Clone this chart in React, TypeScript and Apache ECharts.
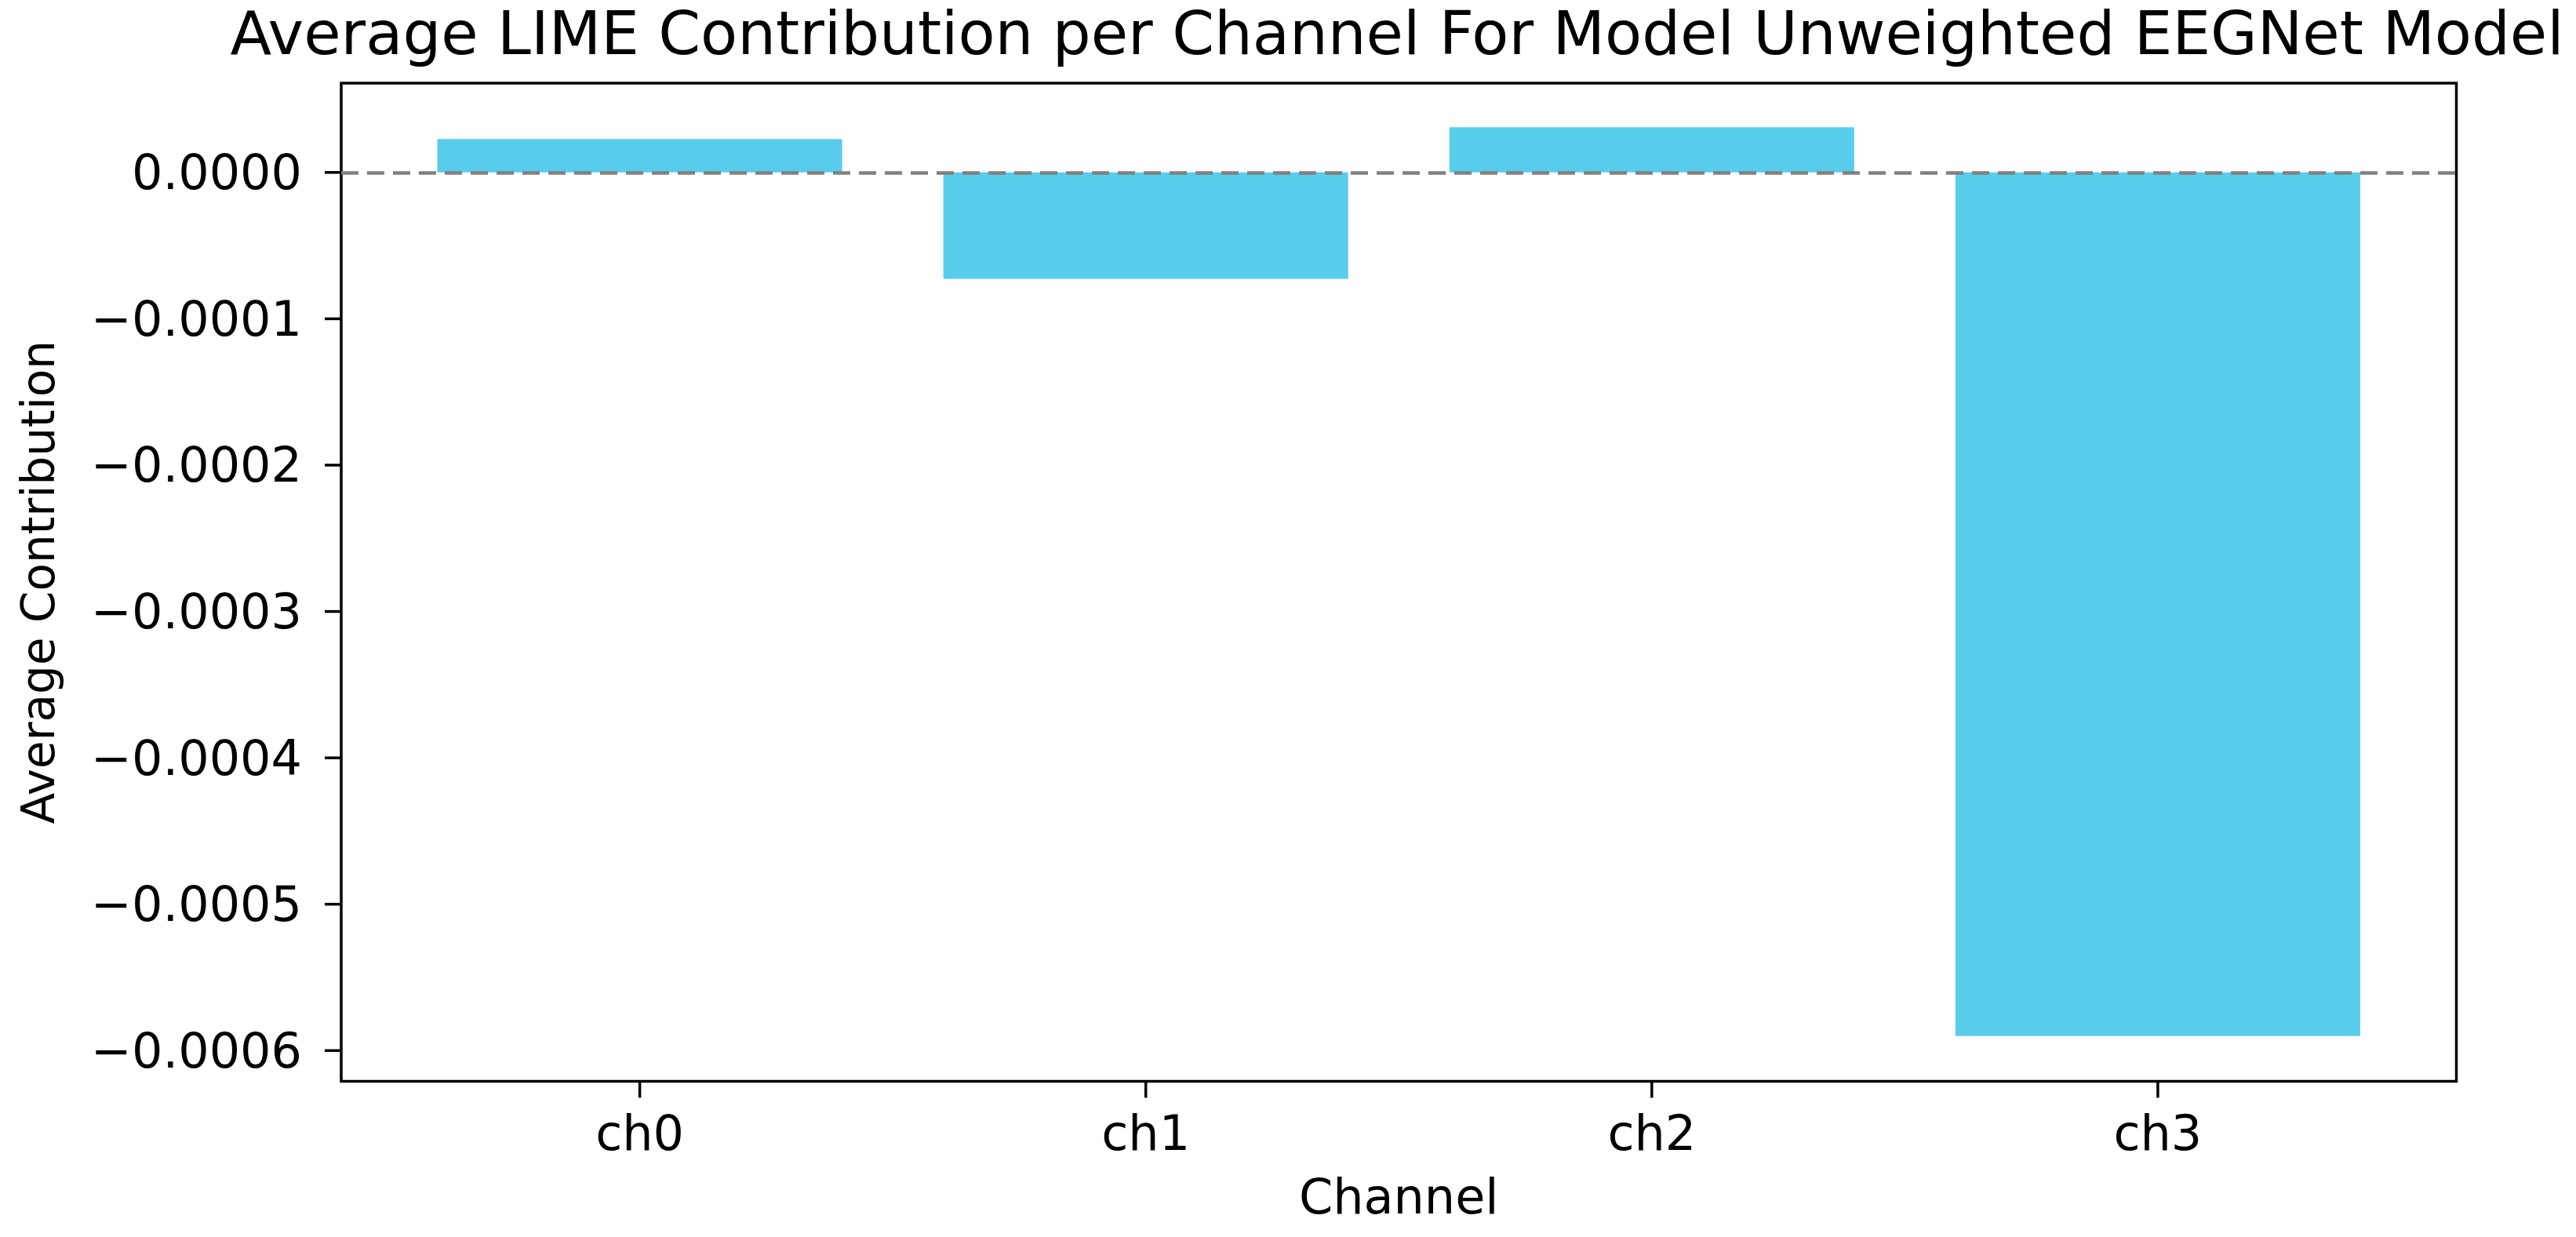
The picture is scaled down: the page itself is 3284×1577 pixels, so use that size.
import React, { useEffect, useRef } from "react";
import * as echarts from "echarts";

const categories = ["ch0", "ch1", "ch2", "ch3"];
const contributions = [0.0000228, -0.0000727, 0.0000309, -0.00059];
const yTicks = [0, -0.0001, -0.0002, -0.0003, -0.0004, -0.0005, -0.0006];
const titleText = "Average LIME Contribution per Channel For Model Unweighted EEGNet Model";
const xName = "Channel";
const yName = "Average Contribution";

const FONT = "DejaVu Sans";
const X_MIN = -0.59;
const X_MAX = 3.59;
const Y_MIN = -0.000621;
const Y_MAX = 0.000061;

export default function App() {
  const ref = useRef<HTMLDivElement>(null);
  useEffect(() => {
    if (!ref.current) return;
    const chart = echarts.init(ref.current, null, { renderer: "svg" });
    const gridLeft = 435;
    const gridRight = 152.5;
    const TICK_LEN = 21;
    const TICK_W = 3.5;
    const xPositions = categories.map((c, i) => i);
    chart.setOption({
      animation: false,
      backgroundColor: "#ffffff",
      textStyle: { fontFamily: FONT },
      graphic: [
        {
          type: "text",
          x: 1781,
          y: 4,
          style: {
            text: titleText,
            fontSize: 77,
            fontFamily: FONT,
            fill: "#000000",
            textAlign: "center",
            textVerticalAlign: "top",
          },
        },
      ],
      grid: {
        left: gridLeft,
        right: gridRight,
        top: 106,
        bottom: 198.5,
        show: true,
        borderColor: "#000000",
        borderWidth: 3.5,
        containLabel: false,
        outerBoundsMode: "none",
      },
      xAxis: {
        type: "value",
        min: X_MIN,
        max: X_MAX,
        position: "bottom",
        name: xName,
        nameLocation: "middle",
        nameGap: 116,
        nameTextStyle: { fontSize: 62, fontFamily: FONT, color: "#000000" },
        axisLine: { show: false, onZero: false },
        splitLine: { show: false },
        axisTick: { show: false },
        axisLabel: {
          show: true,
          customValues: xPositions,
          margin: 35,
          fontSize: 62,
          fontFamily: FONT,
          color: "#000000",
          formatter: (v: number) => categories[Math.round(v)] ?? "",
        },
      },
      yAxis: {
        type: "value",
        min: Y_MIN,
        max: Y_MAX,
        position: "left",
        name: yName,
        nameLocation: "middle",
        nameGap: 357,
        nameTextStyle: { fontSize: 58, fontFamily: FONT, color: "#000000" },
        axisLine: { show: false, onZero: false },
        splitLine: { show: false },
        axisTick: { show: false },
        axisLabel: {
          show: true,
          customValues: yTicks,
          margin: 50,
          fontSize: 62,
          fontFamily: FONT,
          color: "#000000",
          formatter: (v: number) =>
            (v < -1e-12 ? "\u2212" : "") + Math.abs(v).toFixed(4),
        },
      },
      series: [
        {
          type: "bar",
          barWidth: "80%",
          data: categories.map((c, i) => [i, contributions[i]]),
          itemStyle: { color: "#57CDEB" },
          markLine: {
            silent: true,
            symbol: ["none", "none"],
            label: { show: false },
            lineStyle: { color: "#808080", type: [22, 11], width: 4.5 },
            data: [{ yAxis: 0 }],
          },
        },
        {
          name: "yTicks",
          type: "custom",
          silent: true,
          clip: false,
          z: 5,
          data: yTicks.map((v) => [X_MIN, v]),
          renderItem: (params: any, api: any) => {
            const p = api.coord([api.value(0), api.value(1)]);
            return {
              type: "line",
              shape: { x1: p[0] - TICK_LEN, y1: p[1], x2: p[0], y2: p[1] },
              style: { stroke: "#000000", lineWidth: TICK_W },
            };
          },
        },
        {
          name: "xTicks",
          type: "custom",
          silent: true,
          clip: false,
          z: 5,
          data: xPositions.map((i) => [i, Y_MIN]),
          renderItem: (params: any, api: any) => {
            const p = api.coord([api.value(0), api.value(1)]);
            return {
              type: "line",
              shape: { x1: p[0], y1: p[1], x2: p[0], y2: p[1] + TICK_LEN },
              style: { stroke: "#000000", lineWidth: TICK_W },
            };
          },
        },
      ],
    });
    return () => chart.dispose();
  }, []);
  return (
    <div
      ref={ref}
      style={{ position: "fixed", left: 0, top: 0, width: 3284, height: 1577 }}
    />
  );
}
